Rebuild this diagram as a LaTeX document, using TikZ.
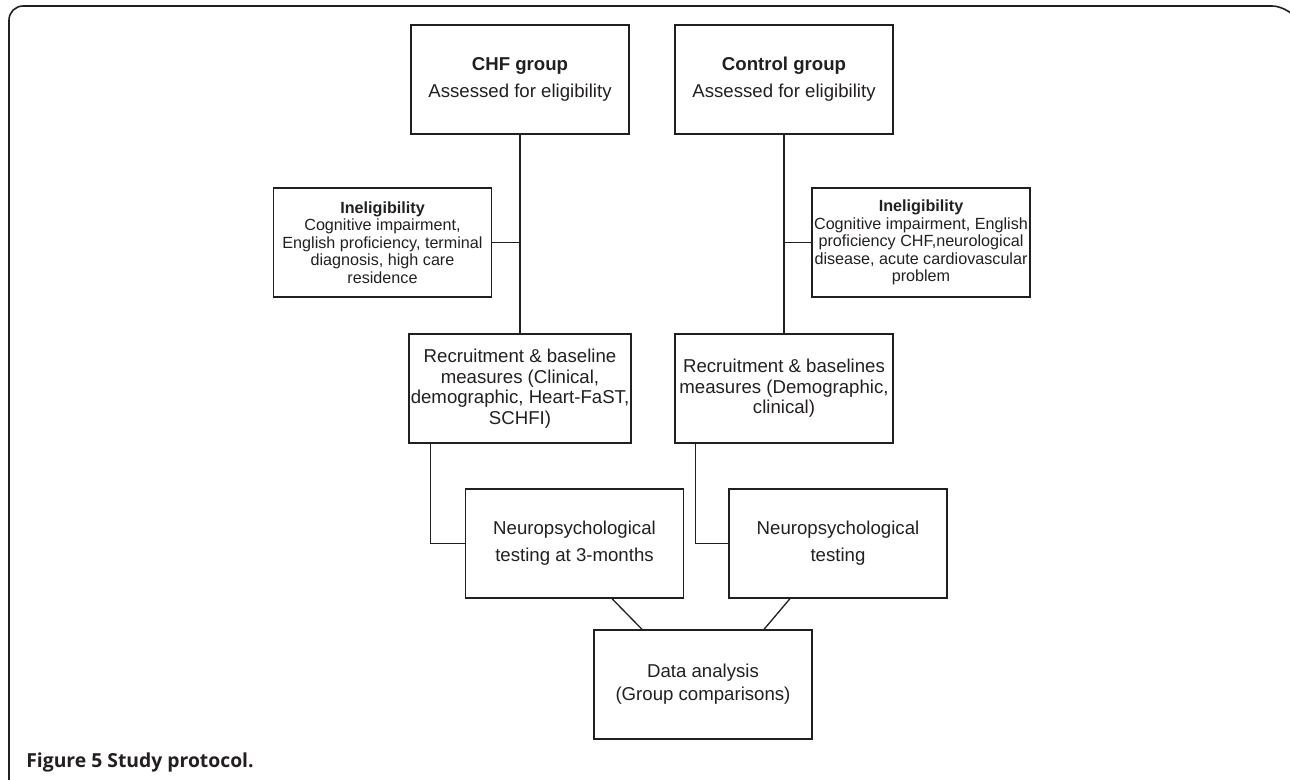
\documentclass[tikz,border=0pt]{standalone}
\usepackage{fontspec}
\setmainfont{Liberation Sans}
\newfontfamily\capfont{Open Sans}
\usepackage{tikz}
\usetikzlibrary{positioning, calc}

\definecolor{inkgray}{RGB}{35,31,32}

\tikzset{
  box/.style={draw=inkgray, text=inkgray, line width=0.75pt, minimum width=4.36cm,
    minimum height=2.18cm, align=center, inner xsep=1pt, inner ysep=2pt,
    font=\fontsize{10.6}{15.4}\selectfont},
  inelbox/.style={box, font=\fontsize{9.2}{10}\selectfont},
  recbox/.style={box, font=\fontsize{10.6}{11.7}\selectfont},
  link/.style={draw=inkgray, line width=0.75pt}
}

\begin{document}
\begin{tikzpicture}[node distance=2cm, on grid]

    \useasboundingbox (0,0) rectangle (25.8,-15.6);

    % outer frame, open at the bottom and right
    \draw[inkgray, line width=0.9pt, rounded corners=8pt]
    (0.18,-15.6) -- (0.18,-0.12) -- (25.72,-0.12) -- (25.8,-0.22);

    \node[box] (chf) at (10.4,-1.59) {\textbf{CHF group}\\Assessed for eligibility};
    \node[box] (ctrl) [right=5.28cm of chf] {\textbf{Control group}\\Assessed for eligibility};
    \node[inelbox] (chf_inel) [below=3.26cm of chf, xshift=-2.75cm]
    {\textbf{Ineligibility}\\Cognitive impairment,\\English proficiency, terminal\\diagnosis, high care\\residence};
    \node[inelbox] (ctrl_inel) [below=3.26cm of ctrl, xshift=2.74cm]
    {\textbf{Ineligibility}\\Cognitive impairment, English\\proficiency CHF,neurological\\disease, acute cardiovascular\\problem};
    \node[recbox] (chf_rec) [below=6.18cm of chf]
    {Recruitment \& baseline\\measures (Clinical,\\demographic, Heart-FaST,\\SCHFI)};
    \node[recbox] (ctrl_rec) [below=6.18cm of ctrl]
    {Recruitment \& baselines\\measures (Demographic,\\clinical)};
    \node[box] (chf_neuro) [below=3.1cm of chf_rec, xshift=1.09cm]
    {Neuropsychological\\testing at 3-months};
    \node[box] (ctrl_neuro) [below=3.1cm of ctrl_rec, xshift=1.08cm]
    {Neuropsychological\\testing};
    \node[box, font=\fontsize{10.6}{13.1}\selectfont] (data) [below=2.82cm of chf_neuro, xshift=2.57cm]
    {Data analysis\\(Group comparisons)};

    \path[link]
    (chf) edge (chf_rec)
    (ctrl) edge (ctrl_rec);

    \draw[link] (chf_inel.east) -- (chf_inel.east -| chf.south);
    \draw[link] (ctrl_inel.west) -- (ctrl_inel.west -| ctrl.south);

    \draw[link] ([xshift=0.44cm]chf_rec.south west) |- (chf_neuro.west);
    \draw[link] ([xshift=0.42cm]ctrl_rec.south west) |- (ctrl_neuro.west);

    \draw[link] ([xshift=0.75cm]chf_neuro.south) -- ([xshift=-1.22cm]data.north);
    \draw[link] ([xshift=-0.96cm]ctrl_neuro.south) -- ([xshift=1.22cm]data.north);

    \node[anchor=base west, inner sep=0pt, text=inkgray, font=\capfont\bfseries\fontsize{11}{13}\selectfont]
    (caption) at (0.52,-15.36) {Figure 5 Study protocol.};

  \end{tikzpicture}
\end{document}
